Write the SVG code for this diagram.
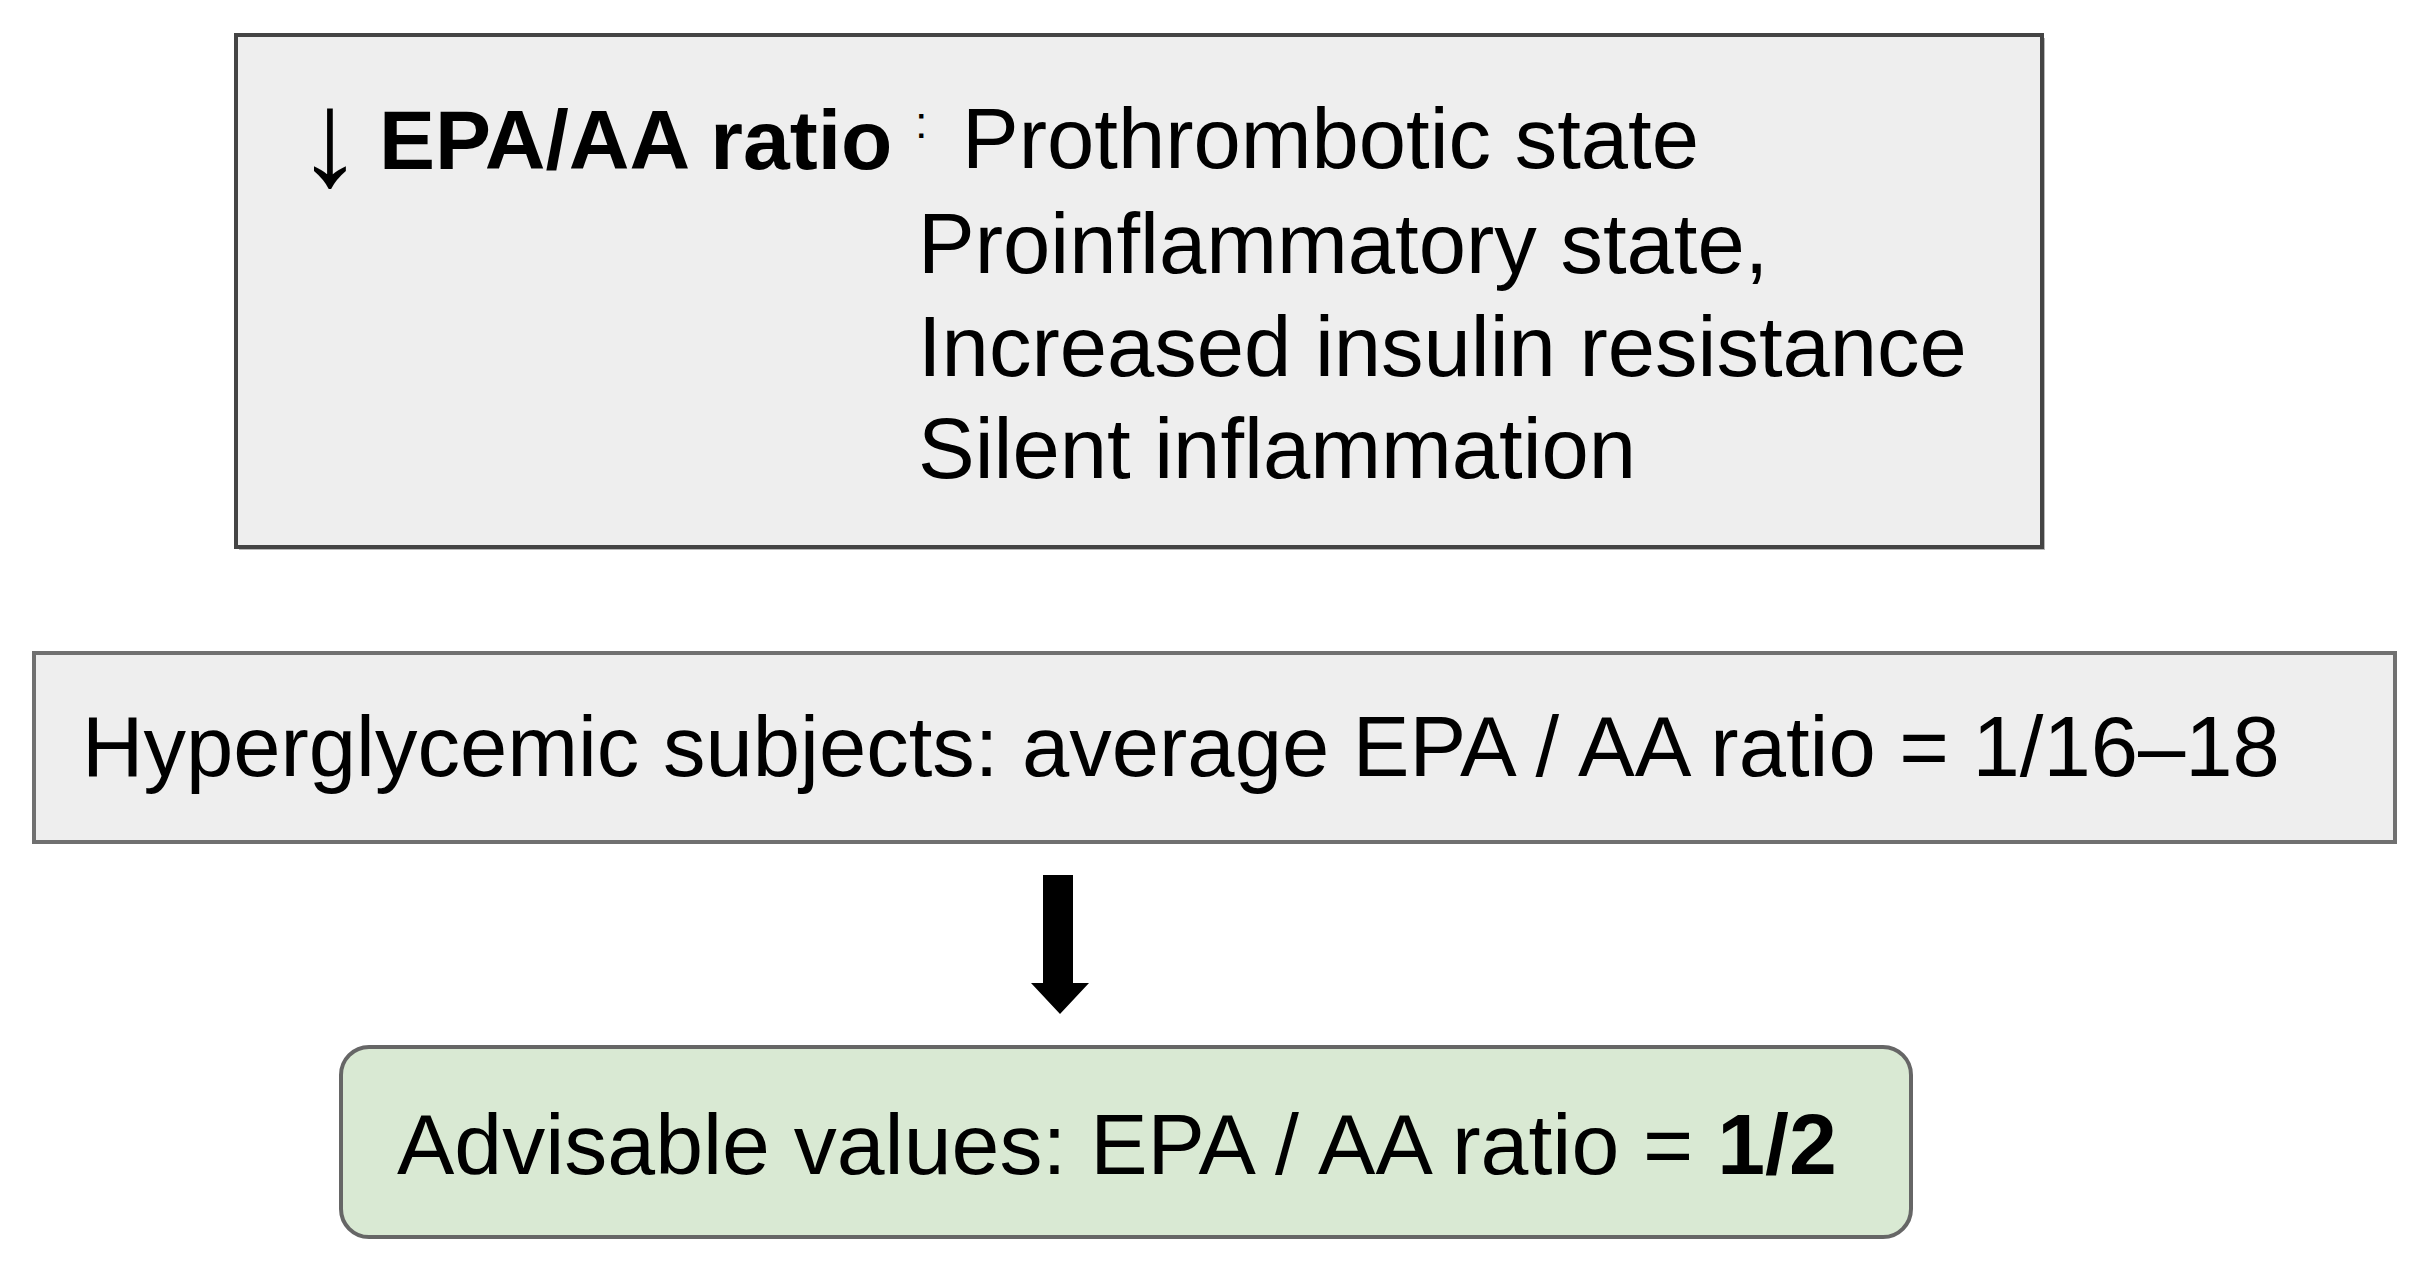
<svg xmlns="http://www.w3.org/2000/svg" width="2412" height="1270" viewBox="0 0 2412 1270">
<style>
.t{font-family:"Liberation Sans",Arial,sans-serif;font-size:85px;fill:#000}
.b{font-weight:bold}
.gray{fill:#eeeeee}
</style>
<rect width="2412" height="1270" fill="#ffffff"/>
<g id="node-top">
<rect x="239" y="38" width="1806" height="512" fill="#b8b8b8"/>
<rect x="236" y="35" width="1806" height="512" class="gray" stroke="#444444" stroke-width="4"/>
<text class="t" x="296" y="185" style="font-size:136px">↓</text>
<text class="t b" x="379" y="169" style="font-size:84px">EPA/AA ratio</text>
<text class="t" x="915" y="138" style="font-size:45px">:</text>
<text class="t" x="962" y="168">Prothrombotic state</text>
<text class="t" x="918" y="273">Proinflammatory state,</text>
<text class="t" x="918" y="376">Increased insulin resistance</text>
<text class="t" x="918" y="478">Silent inflammation</text>
</g>
<g id="node-middle">
<rect x="34" y="653" width="2361" height="189" class="gray" stroke="#707070" stroke-width="4"/>
<text class="t" x="82" y="776">Hyperglycemic subjects: average EPA / AA ratio = 1/16–18</text>
</g>
<g id="connectors">
<polygon points="1043,875 1073,875 1073,983 1089,983 1060,1014 1031,983 1043,983" fill="#000000"/>
</g>
<g id="node-bottom">
<rect x="341" y="1047" width="1570" height="190" rx="28" ry="28" fill="#d9e9d3" stroke="#666666" stroke-width="4"/>
<text class="t" x="397" y="1174" style="font-size:86px">Advisable values: EPA / AA ratio = <tspan class="b">1/2</tspan></text>
</g>
</svg>
